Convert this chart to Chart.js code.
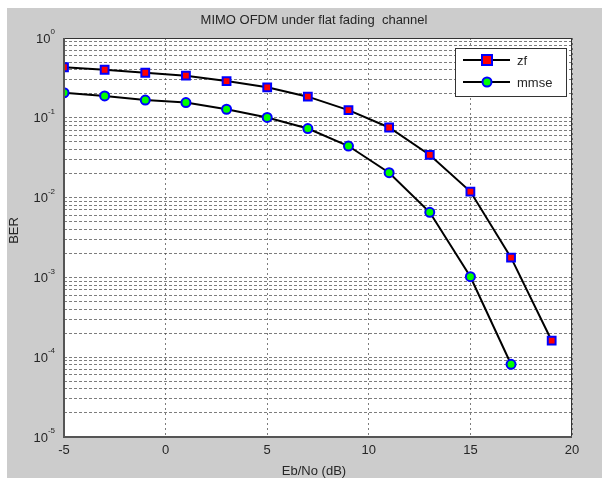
<!DOCTYPE html>
<html>
<head>
<meta charset="utf-8">
<script src="https://cdn.jsdelivr.net/npm/chart.js@4/dist/chart.umd.min.js"></script>
<style>
  body { margin: 0; background: #fff; }
  #fig { position: absolute; left: 7px; top: 8px; width: 595px; height: 470px; background: #cccccc; }
</style>
</head>
<body>
<div id="fig"><canvas id="grafico" width="595" height="470"></canvas></div>
<script>
// valores
const ebnoZf = [-5, -3, -1, 1, 3, 5, 7, 9, 11, 13, 15, 17, 19];
const berZf = [0.43, 0.40, 0.367, 0.337, 0.289, 0.241, 0.184, 0.125, 0.0756, 0.0342, 0.0119, 0.00177, 0.000161];
const ebnoMmse = [-5, -3, -1, 1, 3, 5, 7, 9, 11, 13, 15, 17];
const berMmse = [0.206, 0.188, 0.167, 0.155, 0.128, 0.101, 0.0734, 0.0443, 0.0205, 0.00654, 0.00102, 0.0000815];
const xTicks = [-5, 0, 5, 10, 15, 20];
const decadas = [0, -1, -2, -3, -4, -5];

const fonte = '"Liberation Sans", Arial, sans-serif';
const corGrade = 'rgba(70,70,70,0.7)';

// ticks do eixo log: 1..9 em cada decada
function ticksLog() {
  const t = [];
  for (let e = -5; e < 0; e++) {
    for (let s = 1; s < 10; s++) t.push({ value: s * Math.pow(10, e) });
  }
  t.push({ value: 1 });
  return t;
}

// desenha titulo, rotulos, legenda
const extras = {
  id: 'extras',
  afterDraw(chart) {
    const ctx = chart.ctx;
    const area = chart.chartArea;
    const ys = chart.scales.y;
    ctx.save();

    // borda da caixa
    ctx.strokeStyle = '#333';
    ctx.lineWidth = 1;
    ctx.strokeRect(area.left + 0.5, area.top + 0.5, area.right - area.left - 1, area.bottom - area.top - 1);
    ctx.lineWidth = 2;
    ctx.strokeStyle = '#555';
    ctx.beginPath();
    ctx.moveTo(area.left, area.top);
    ctx.lineTo(area.left, area.bottom);
    ctx.lineTo(area.right, area.bottom);
    ctx.stroke();

    ctx.fillStyle = '#262626';
    // titulo
    ctx.font = '13px ' + fonte;
    ctx.textAlign = 'center';
    ctx.textBaseline = 'middle';
    ctx.fillText('MIMO OFDM under flat fading  channel', (area.left + area.right) / 2 - 4, 12);

    // rotulos eixo y com expoente
    decadas.forEach(e => {
      const y = ys.getPixelForValue(Math.pow(10, e));
      const exp = String(e);
      ctx.font = '8px ' + fonte;
      const wExp = ctx.measureText(exp).width;
      const xFim = area.left - 9;
      ctx.textAlign = 'left';
      ctx.textBaseline = 'middle';
      ctx.fillText(exp, xFim - wExp, y - 6);
      ctx.font = '13px ' + fonte;
      ctx.textAlign = 'right';
      ctx.fillText('10', xFim - wExp, y + 1);
    });

    // titulos dos eixos
    ctx.font = '13px ' + fonte;
    ctx.textAlign = 'center';
    ctx.fillText('Eb/No (dB)', (area.left + area.right) / 2 - 4, 463);
    ctx.save();
    ctx.translate(7, (area.top + area.bottom) / 2 - 7);
    ctx.rotate(-Math.PI / 2);
    ctx.fillText('BER', 0, 0);
    ctx.restore();

    // legenda
    const lx = 448, ly = 40, lw = 111, lh = 48;
    ctx.fillStyle = '#fff';
    ctx.fillRect(lx, ly, lw, lh);
    ctx.strokeStyle = '#333';
    ctx.lineWidth = 1;
    ctx.strokeRect(lx + 0.5, ly + 0.5, lw, lh);
    const itens = [
      { nome: 'zf', y: 52, ds: chart.data.datasets[0] },
      { nome: 'mmse', y: 74, ds: chart.data.datasets[1] }
    ];
    itens.forEach(it => {
      ctx.strokeStyle = '#000';
      ctx.lineWidth = 2;
      ctx.beginPath();
      ctx.moveTo(456, it.y);
      ctx.lineTo(503, it.y);
      ctx.stroke();
      ctx.fillStyle = it.ds.pointBackgroundColor;
      ctx.strokeStyle = it.ds.pointBorderColor;
      ctx.lineWidth = 2;
      if (it.nome === 'zf') {
        ctx.fillRect(475, it.y - 5, 10, 10);
        ctx.strokeRect(475, it.y - 5, 10, 10);
      } else {
        ctx.beginPath();
        ctx.arc(480, it.y, 4.5, 0, Math.PI * 2);
        ctx.fill();
        ctx.stroke();
      }
      ctx.fillStyle = '#262626';
      ctx.font = '13px ' + fonte;
      ctx.textAlign = 'left';
      ctx.fillText(it.nome, 510, it.y + 1);
    });

    ctx.restore();
  }
};

new Chart(document.getElementById('grafico'), {
  type: 'line',
  data: {
    datasets: [
      {
        label: 'zf',
        data: ebnoZf.map((x, i) => ({ x, y: berZf[i] })),
        borderColor: '#000',
        borderWidth: 2,
        pointStyle: 'rect',
        pointRadius: 5.5,
        pointBorderWidth: 2,
        pointBackgroundColor: '#ff0000',
        pointBorderColor: '#0000ff',
        tension: 0
      },
      {
        label: 'mmse',
        data: ebnoMmse.map((x, i) => ({ x, y: berMmse[i] })),
        borderColor: '#000',
        borderWidth: 2,
        pointStyle: 'circle',
        pointRadius: 4.5,
        pointBorderWidth: 2,
        pointBackgroundColor: '#00ff00',
        pointBorderColor: '#0000ff',
        tension: 0
      }
    ]
  },
  options: {
    responsive: false,
    animation: false,
    layout: { padding: { top: 30, right: 30, left: 0, bottom: 0 } },
    plugins: { legend: { display: false }, tooltip: { enabled: false } },
    scales: {
      x: {
        type: 'linear',
        min: -5,
        max: 20,
        afterBuildTicks: s => { s.ticks = xTicks.map(v => ({ value: v })); },
        afterFit: s => { s.height = 41; },
        ticks: { color: '#262626', font: { family: fonte, size: 13 }, padding: 6, maxRotation: 0 },
        grid: { color: corGrade, drawTicks: false },
        border: { display: false, dash: [2, 3] }
      },
      y: {
        type: 'logarithmic',
        min: 1e-5,
        max: 1,
        afterBuildTicks: s => { s.ticks = ticksLog(); },
        afterFit: s => { s.width = 57; },
        ticks: { display: false },
        grid: { color: corGrade, drawTicks: false },
        border: { display: false, dash: [3, 2] }
      }
    }
  },
  plugins: [{
    id: 'fundo',
    beforeDraw(chart) {
      const a = chart.chartArea;
      chart.ctx.save();
      chart.ctx.fillStyle = '#fff';
      chart.ctx.fillRect(a.left, a.top, a.right - a.left, a.bottom - a.top);
      chart.ctx.restore();
    }
  }, extras]
});
</script>
</body>
</html>
